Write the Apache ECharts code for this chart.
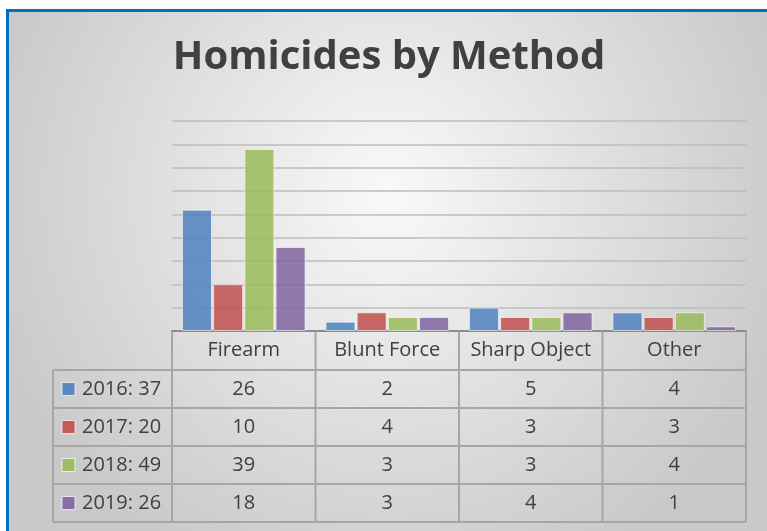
<!DOCTYPE html>
<html>
<head>
<meta charset="utf-8">
<script src="https://cdn.jsdelivr.net/npm/echarts@6/dist/echarts.min.js"></script>
<style>
  html, body { margin: 0; padding: 0; background: #fff; }
  #main { width: 767px; height: 531px; }
</style>
</head>
<body>
<div id="main"></div>
<script>
const categories = ['Firearm', 'Blunt Force', 'Sharp Object', 'Other'];
const years = ['2016', '2017', '2018', '2019'];
const yearTotals = [37, 20, 49, 26];
const values2016 = [26, 2, 5, 4];
const values2017 = [10, 4, 3, 3];
const values2018 = [39, 3, 3, 4];
const values2019 = [18, 3, 4, 1];
const colors = ['#4F81BD', '#C0504D', '#9BBB59', '#8064A2'];

const seriesValues = [values2016, values2017, values2018, values2019];
const font = '"Open Sans", "Noto Sans", sans-serif';
const textColor = '#404040';
const lineColor = '#a6a6a6';

const chart = echarts.init(document.getElementById('main'));

const gridTop = 121, gridBottom = 200, gridLeft = 172, gridRight = 21;
const W = 767, H = 531;

chart.setOption({
    animation: false,
    backgroundColor: '#fff',
    grid: { left: gridLeft, right: gridRight, top: gridTop, bottom: gridBottom },
    xAxis: {
        type: 'category',
        data: categories,
        axisLine: { lineStyle: { color: '#8c8c8c', width: 2 } },
        axisTick: { show: false },
        axisLabel: { show: false }
    },
    yAxis: {
        type: 'value',
        min: 0, max: 45, interval: 5,
        axisLine: { show: false },
        axisTick: { show: false },
        axisLabel: { show: false },
        splitLine: { lineStyle: { color: '#bdbdbd', width: 1.5 } }
    },
    series: years.map((y, i) => ({
        name: y,
        type: 'bar',
        data: seriesValues[i],
        barWidth: 30,
        barGap: '4%',
        itemStyle: {
            color: colors[i],
            opacity: 0.85,
            borderColor: 'rgba(255,255,255,0.7)',
            borderWidth: 1
        }
    }))
});

// table under the plot, laid out from the category axis
function buildTable() {
    const centers = categories.map((c, i) => chart.convertToPixel({ xAxisIndex: 0 }, i));
    const half = (centers[1] - centers[0]) / 2;
    const colEdges = [centers[0] - half].concat(centers.map(c => c + half));
    const tableLeft = 53;
    const baseY = H - gridBottom;
    const headerH = 39, rowH = 38;
    const rowTops = years.map((y, i) => baseY + headerH + i * rowH);
    const tableBottom = baseY + headerH + years.length * rowH;
    const tableRight = colEdges[colEdges.length - 1];

    const g = [];
    // background and frame
    g.push({
        type: 'rect', z: -100, silent: true,
        shape: { x: 9, y: 12, width: W - 9, height: H - 12 },
        style: {
            fill: new echarts.graphic.RadialGradient(0.5, 0.35, 0.8, [
                { offset: 0, color: '#f9f9f9' },
                { offset: 1, color: '#c9c9c9' }
            ])
        }
    });
    g.push({ type: 'rect', z: 100, shape: { x: 6, y: 9, width: W - 6, height: 3 }, style: { fill: '#0070C0' } });
    g.push({ type: 'rect', z: 100, shape: { x: 6, y: 9, width: 3, height: H - 9 }, style: { fill: '#0070C0' } });

    // title
    g.push({
        type: 'text', z: 50, x: 389, y: 58,
        style: {
            text: 'Homicides by Method', fill: textColor,
            font: 'bold 40px ' + font, textAlign: 'center', textVerticalAlign: 'middle'
        }
    });

    const line = (x1, y1, x2, y2) => ({
        type: 'line', z: 40, silent: true,
        shape: { x1, y1, x2, y2 },
        style: { stroke: lineColor, lineWidth: 2 }
    });

    // horizontal lines
    rowTops.concat([tableBottom]).forEach(y => g.push(line(tableLeft, y, tableRight, y)));
    // vertical lines
    g.push(line(tableLeft, rowTops[0], tableLeft, tableBottom));
    colEdges.forEach(x => g.push(line(x, baseY, x, tableBottom)));

    // header labels
    categories.forEach((c, i) => g.push({
        type: 'text', z: 50, x: centers[i], y: baseY + headerH / 2,
        style: { text: c, fill: textColor, font: '20px ' + font, textAlign: 'center', textVerticalAlign: 'middle' }
    }));

    // rows
    years.forEach((y, r) => {
        const cy = rowTops[r] + rowH / 2;
        g.push({
            type: 'rect', z: 50,
            shape: { x: 62, y: cy - 6.5, width: 13, height: 13 },
            style: { fill: colors[r], opacity: 0.9, stroke: 'rgba(255,255,255,0.8)', lineWidth: 1 }
        });
        g.push({
            type: 'text', z: 50, x: 82, y: cy,
            style: { text: y + ': ' + yearTotals[r], fill: textColor, font: '20px ' + font, textAlign: 'left', textVerticalAlign: 'middle' }
        });
        seriesValues[r].forEach((v, i) => g.push({
            type: 'text', z: 50, x: centers[i], y: cy,
            style: { text: String(v), fill: textColor, font: '20px ' + font, textAlign: 'center', textVerticalAlign: 'middle' }
        }));
    });

    chart.setOption({ graphic: { elements: g } });
}

buildTable();
window.onresize = () => chart.resize();
</script>
</body>
</html>
